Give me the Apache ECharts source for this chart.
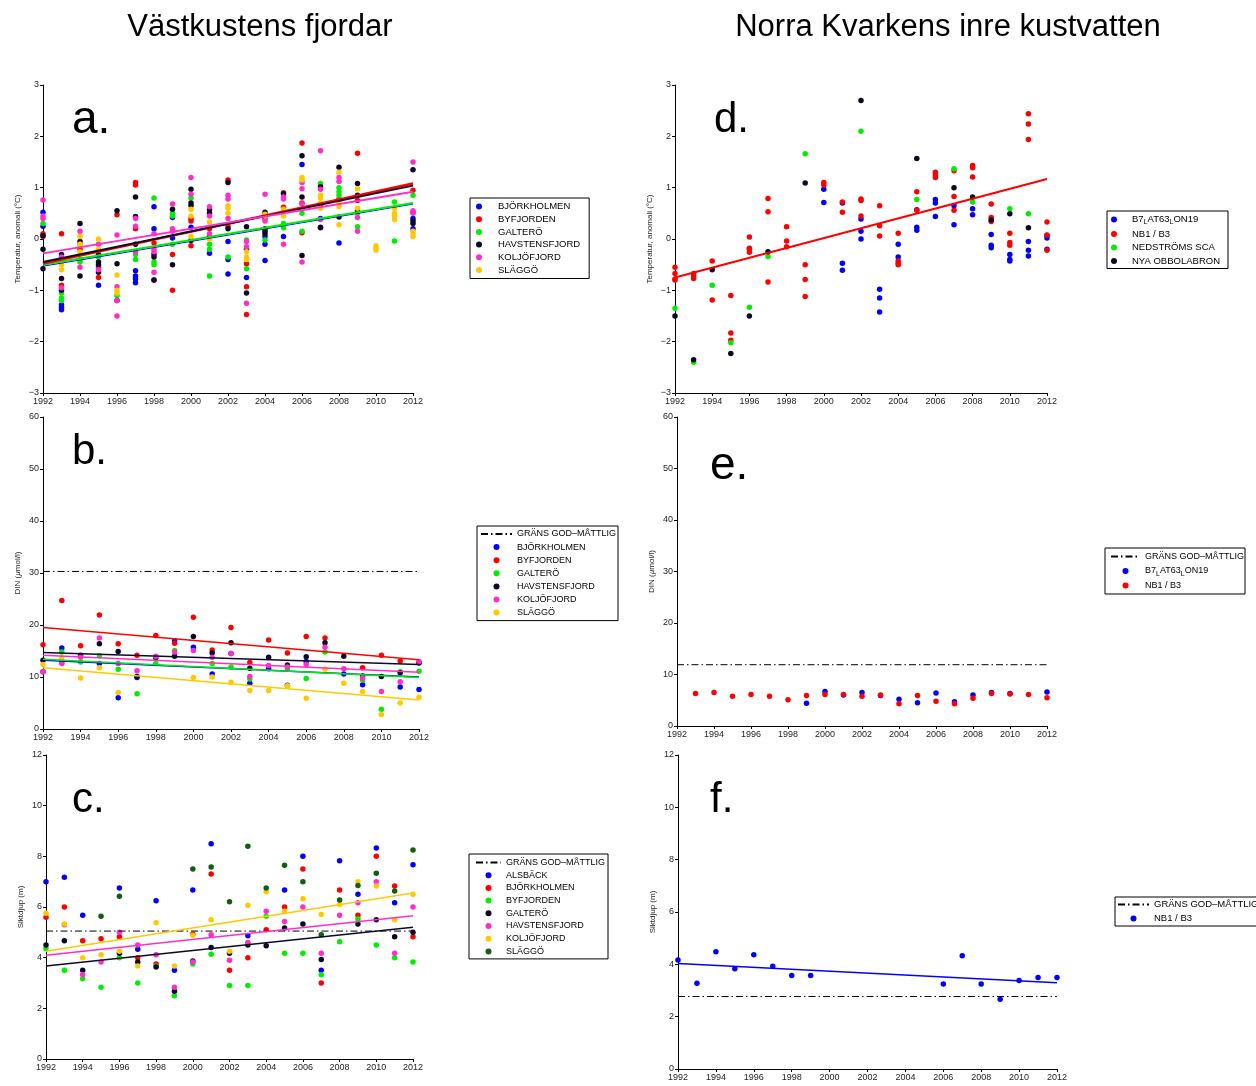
<!DOCTYPE html>
<html lang="sv">
<head>
  <meta charset="UTF-8">
  <title>Västkustens fjordar / Norra Kvarken</title>
  <script src="https://cdn.jsdelivr.net/npm/echarts@6/dist/echarts.min.js"></script>
  <style>
    html, body { margin: 0; padding: 0; background: #fff; }
    #chart { width: 1256px; height: 1086px; }
  </style>
</head>
<body>
<div id="chart"></div>
<script>
  // årtal (x-axel)
  const years = [1992, 1993, 1994, 1995, 1996, 1997, 1998, 1999, 2000, 2001, 2002,
                 2003, 2004, 2005, 2006, 2007, 2008, 2009, 2010, 2011, 2012];

  // a. temperaturanomali, flera värden per år
  const aBjorkholmen = [[0.52, 0.25], [-1.28, -1.33, -1.38], [], [-0.9], [], [-0.62, -0.72, -0.78, -0.85],
    [0.63, 0.2], [0.42, 0.02], [0.23], [-0.28], [-0.05, -0.4, -0.68], [-0.2, -0.75], [0.05, -0.1, -0.42],
    [0.05], [1.45], [0.4, 0.22], [-0.08], [], [], [], [0.4, 0.2]];
  const aByfjorden = [[0.1, 0.05], [0.1, -0.9], [-0.2], [-0.55, -0.75], [0.47], [1.1, 1.05, 0.2],
    [-0.08, -0.8], [-0.3, -1.0], [0.4, 0.35, -0.13], [0.2], [1.15, 0.25], [-0.48, -0.93, -1.47], [0.4],
    [0.9, 0.62], [1.87, 0.7, 0.12], [0.65], [0.78], [1.67, 0.75], [], [], [0.95, 0.52]];
  const aGaltero = [[0.3], [-1.05, -1.15, -1.2], [-0.4, -0.45], [-0.35], [-1.1], [-0.3, -0.4],
    [0.8, -0.45, -0.5], [0.5, 0.45, -0.1], [0.8], [-0.1, -0.2, -0.72], [-0.35], [-0.02, -0.58], [-0.02],
    [0.3, 0.22], [0.5, 0.15], [1.08], [1.0, 0.92, 0.85], [0.5, 0.24], [], [0.72, -0.04], [0.85]];
  const aHavstensfjord = [[0.07, -0.2, -0.58], [-0.3, -0.77, -1.0], [0.3, -0.05, -0.72], [-0.3, -0.45, -0.5, -0.65],
    [0.55, -0.48, -1.2], [0.82, 0.44, -0.1], [-0.3, -0.35, -0.8], [0.58, -0.5], [0.97, 0.7, 0.65, -0.03],
    [0.57, 0.5, 0.05], [1.1, 0.2], [0.24, -1.05], [0.52, 0.2, 0.15, 0.1], [0.88], [1.62, 0.82, -0.32],
    [1.02, 0.23], [1.4, 0.43], [1.08, 0.85, 0.55], [], [], [1.35, 0.35, 0.3]];
  const aKoljofjord = [[0.76, 0.45, 0.4], [-0.35, -0.95], [0.15, -0.1, -0.55], [-0.1, -0.6], [0.08, -0.93, -1.2, -1.5],
    [0.4, 0.25, -0.25], [0.1, -0.2, -0.25, -0.65], [0.68, 0.2, 0.15], [1.2, 0.87], [0.63, 0.45, 0.1],
    [0.85, 0.78, 0.4], [-0.05, -0.15, -1.25], [0.87, 0.35], [0.82, 0.78, -0.1], [1.1, 0.98, 0.68, -0.45],
    [1.72, 0.97, 0.38], [1.2, 1.12, 0.75], [0.42, 0.15], [], [], [1.5, 0.55, 0.5]];
  const aSlaggo = [[], [-0.45, -0.5, -0.6], [0.05, -0.1, -0.25], [0.0, -0.2], [-0.7, -1.0, -1.05], [], [], [],
    [0.58, 0.45, 0.05], [0.33, 0.0], [0.65, 0.6, 0.5], [-0.25, -0.35, -0.4], [0.48, 0.45], [0.58, 0.52, 0.45],
    [1.2, 1.15], [0.85, 0.8, 0.7, 0.6], [1.3, 0.7, 0.63, 0.28], [0.98, 0.6], [-0.13, -0.18, -0.22],
    [0.6, 0.5, 0.45, 0.38], [0.15, 0.1, 0.05]];
  // trendlinjer a: [värde 1992, värde 2012]
  const aTrendByf = [-0.48, 1.08];
  const aTrendHav = [-0.45, 1.04];
  const aTrendKol = [-0.28, 0.92];
  const aTrendGal = [-0.5, 0.7];
  const aTrendBjo = [-0.53, 0.68];

  // b. DIN
  const bBjorkholmen = [11.0, 15.6, null, 12.6, 6.0, 9.9, null, 16.9, 15.7, 10.6, 14.5, 8.8, 11.6, 8.4, 13.0, null, 10.6, 8.5, null, 8.1, 7.6];
  const bByfjorden = [16.2, 24.7, 16.0, 21.9, 16.4, 14.2, 18.0, 16.5, 21.5, 15.2, 19.5, 12.8, 17.1, 14.6, 17.8, 17.5, null, 11.8, 14.2, 13.1, 12.8];
  const bGaltero = [null, 14.8, 12.9, 14.1, 11.5, 6.8, 12.6, 15.1, null, 12.6, 11.9, 9.6, null, 11.6, 9.7, 14.8, null, 9.4, 3.8, 11.0, 11.1];
  const bHavstensfjord = [13.2, 13.0, 14.2, 16.4, 14.9, 10.1, 13.7, 14.0, 17.8, 14.6, 16.6, 11.7, 13.8, 12.3, 13.9, 16.6, 14.0, 10.2, 10.1, 10.8, 12.7];
  const bKoljofjord = [11.0, 12.6, 13.8, 17.5, 12.6, 11.2, 14.0, 14.8, 15.1, 13.8, 14.5, 10.1, 12.2, 11.9, 12.4, 15.7, 11.6, 9.8, 7.2, 9.1, 13.0];
  const bSlaggo = [12.4, 13.7, 9.8, 11.8, 7.0, null, null, null, 9.9, 10.0, 9.0, 7.4, 7.4, 8.3, 5.9, 11.5, 8.8, 7.2, 2.8, 5.0, 6.1];
  const bGrans = 30.3;
  const bTrendByf = [19.5, 13.3];
  const bTrendHav = [14.7, 12.4];
  const bTrendKol = [14.2, 10.9];
  const bTrendGal = [13.4, 9.9];
  const bTrendBjo = [13.2, 10.0];
  const bTrendSla = [11.8, 5.6];

  // c. siktdjup
  const cAlsback = [7.0, 7.17, 5.67, null, 6.75, 4.33, 6.25, 3.5, 6.67, 8.5, null, 4.87, null, 6.67, 8.0, 3.5, 7.83, 6.5, 8.33, 6.17, 7.67];
  const cBjorkholmen = [5.6, 6.0, 4.67, 4.75, 4.83, 4.0, 3.75, null, 4.92, 7.3, 3.5, 4.0, 5.1, 6.0, 7.5, 3.0, 6.67, 5.67, 8.0, 6.83, 4.83];
  const cByfjorden = [4.35, 3.5, 3.17, 2.83, 4.0, 3.0, 3.67, 2.5, 3.75, 4.13, 2.9, 2.9, 5.63, 4.17, 4.17, 3.33, 4.63, 5.53, 4.5, 4.0, 3.83];
  const cGaltero = [4.5, 4.67, 3.5, null, 4.17, 3.83, 3.63, 2.67, 3.87, 4.4, 4.17, 4.5, 4.47, 5.17, 5.33, 3.93, null, 5.33, 5.5, 4.83, 5.0];
  const cHavstensfjord = [null, 5.3, 3.33, 3.83, 5.0, 4.5, 4.12, 2.83, 3.83, 4.9, 3.9, 4.6, 5.83, 5.43, 6.0, 4.17, 5.67, 6.17, 7.0, 4.17, 6.0];
  const cKoljofjord = [5.75, 5.33, 4.0, 4.12, 4.25, 3.67, 5.38, 3.67, 4.88, 5.5, 4.25, 6.07, 6.6, 5.83, 6.33, 5.7, 6.1, 7.0, 6.83, 5.5, 6.5];
  const cSlaggo = [null, null, null, 5.63, 6.42, null, null, null, 7.5, 7.58, 6.21, 8.4, 6.75, 7.65, 7.0, 4.9, 6.28, 6.85, 7.33, 6.63, 8.25];
  const cGrans = 5.05;
  const cTrendKol = [4.25, 6.55];
  const cTrendHav = [4.1, 5.65];
  const cTrendGal = [3.67, 5.2];

  // d. temperaturanomali Norra Kvarken
  const dB7 = [[], [], [], [], [], [], [], [], [0.97, 0.71], [0.7, -0.47, -0.61], [0.39, 0.15, 0.0],
    [-0.98, -1.15, -1.42], [-0.1, -0.35], [0.57, 0.23, 0.17], [0.77, 0.7, 0.44], [0.65, 0.28], [0.59, 0.47],
    [0.09, -0.12, -0.17], [-0.3, -0.4, -0.43], [-0.05, -0.22, -0.33], [0.02, 0.07, -0.2]];
  const dNB1 = [[-0.55, -0.67, -0.78, -0.8], [-0.67, -0.72, -0.77], [-0.43, -1.19], [-1.1, -1.83, -1.97],
    [0.04, -0.18, -0.2, -0.26], [0.79, 0.53, -0.84], [0.24, -0.04, -0.15], [-0.5, -0.79, -1.12], [1.1, 1.05],
    [0.72, 0.52], [0.78, 0.75, 0.45], [0.65, 0.26, 0.06], [0.11, -0.43, -0.47, -0.5], [0.92, 0.56],
    [1.3, 1.25, 1.2], [1.33, 0.83, 0.56], [1.43, 1.39, 1.21], [0.68, 0.42, 0.34], [0.11, -0.07, -0.12],
    [2.44, 2.24, 1.94], [0.33, 0.08, -0.22]];
  const dNedstroms = [[-1.35], [-2.4], [-0.9], [-2.02], [-1.33], [-0.34], [], [1.66], [], [], [2.1], [], [],
    [0.77], [], [1.37], [0.72], [], [0.59], [0.49], []];
  const dObbola = [[-1.5], [-2.35], [-0.6], [-2.23], [-1.5], [-0.25], [], [1.09], [], [], [2.7], [], [],
    [1.57], [], [1.0], [0.82], [0.37], [0.49], [0.22], []];
  const dTrendNB1 = [-0.75, 1.17];

  // e. DIN Norra Kvarken
  const eB7 = [null, null, null, null, null, null, null, 4.4, 6.7, 6.0, 6.5, 5.9, 5.2, 4.5, 6.4, 4.7, 6.0, 6.5, 6.3, null, 6.6];
  const eNB1 = [null, 6.3, 6.5, 5.8, 6.1, 5.8, 5.1, 5.9, 6.1, 6.1, 5.8, 6.0, 4.3, 5.9, 4.8, 4.3, 5.4, 6.3, 6.2, 6.1, 5.5];
  const eGrans = 11.9;

  // f. siktdjup Norra Kvarken
  const fNB1 = [4.17, 3.28, 4.48, 3.83, 4.37, 3.93, 3.57, 3.57, null, null, null, null, null, null, 3.25, 4.33, 3.25, 2.67, 3.38, 3.5, 3.5];
  const fGrans = 2.77;
  const fTrendNB1 = [4.03, 3.3];

  const BLUE = '#0000ff', RED = '#ff0000', GREEN = '#00ee00', BLACK = '#0a0a28',
        MAGENTA = '#ff2ec8', GOLD = '#ffc800', DKGREEN = '#0f5f0f';
  const FONT = '"Liberation Sans", Arial, Helvetica, sans-serif';
  const GRANS = 'GRÄNS GOD–MÅTTLIG';

  function pts(vals) {
    const out = [];
    vals.forEach((v, i) => {
      if (v == null) return;
      if (Array.isArray(v)) v.forEach(x => out.push([years[i], x]));
      else out.push([years[i], v]);
    });
    return out;
  }

  function scatter(name, gi, vals, color) {
    return {
      name: name, type: 'scatter', xAxisIndex: gi, yAxisIndex: gi,
      data: pts(vals), symbol: 'circle', symbolSize: 5.5,
      itemStyle: { color: color, opacity: 1 }, silent: true
    };
  }

  function trend(name, gi, ends, color, width) {
    return {
      name: name, type: 'line', xAxisIndex: gi, yAxisIndex: gi,
      data: [[years[0], ends[0]], [years[years.length - 1], ends[1]]],
      symbol: 'none', silent: true,
      lineStyle: { color: color, width: width }
    };
  }

  function grans(name, gi, val) {
    return {
      name: name, type: 'line', xAxisIndex: gi, yAxisIndex: gi,
      data: [[years[0], val], [years[years.length - 1], val]],
      symbol: 'none', silent: true,
      itemStyle: { color: 'rgba(0,0,0,0)', opacity: 0 },
      lineStyle: { color: '#000', width: 1, type: [7, 3, 1.5, 3] }
    };
  }

  function xAx(gi) {
    return {
      type: 'value', gridIndex: gi, min: 1992, max: 2012, interval: 2,
      axisLine: { onZero: false, lineStyle: { color: '#000', width: 1 } },
      axisTick: { length: 3, lineStyle: { color: '#000' } },
      axisLabel: { fontSize: 9, color: '#222', margin: 4, fontFamily: FONT, formatter: v => String(v) },
      splitLine: { show: false }
    };
  }

  function yAx(gi, min, max, interval, name) {
    return {
      type: 'value', gridIndex: gi, min: min, max: max, interval: interval,
      name: name, nameLocation: 'middle', nameGap: 21,
      nameTextStyle: {
        fontSize: 8, color: '#222', fontFamily: FONT,
        rich: { n: { fontSize: 8, color: '#222', fontFamily: FONT },
                i: { fontSize: 8, color: '#222', fontFamily: FONT, fontStyle: 'italic' } }
      },
      axisLine: { show: true, onZero: false, lineStyle: { color: '#000', width: 1 } },
      axisTick: { show: true, length: 3, lineStyle: { color: '#000' } },
      axisLabel: { fontSize: 9, color: '#222', margin: 4, fontFamily: FONT,
                   formatter: v => String(v).replace('-', '−') },
      splitLine: { show: false }
    };
  }

  function leg(p) {
    const fs = p.fontSize;
    return {
      orient: 'vertical', left: p.left, top: p.top, data: p.data,
      itemWidth: p.itemWidth, itemHeight: 6, itemGap: p.itemGap,
      padding: p.padding, borderColor: '#000', borderWidth: 1,
      selectedMode: false,
      textStyle: {
        fontSize: fs, lineHeight: 11, color: '#000', fontFamily: FONT,
        rich: {
          n: { fontSize: fs, fontFamily: FONT, color: '#000', lineHeight: 11 },
          s: { fontSize: 7, fontFamily: FONT, color: '#000', lineHeight: 7, padding: [6, 0, 0, 0] }
        }
      },
      formatter: function (n) {
        const t = n.slice(2);
        if (t === 'B7_LAT63_LON19') return '{n|B7}{s|L}{n|AT63}{s|L}{n|ON19}';
        return t;
      }
    };
  }

  const chart = echarts.init(document.getElementById('chart'));

  const option = {
    animation: false,
    backgroundColor: '#fff',
    grid: [
      { left: 43, top: 85, width: 370, height: 308 },
      { left: 43, top: 417, width: 376, height: 312 },
      { left: 46, top: 755, width: 367, height: 304 },
      { left: 675, top: 85, width: 372, height: 308 },
      { left: 677, top: 417, width: 370, height: 309 },
      { left: 678, top: 755, width: 379, height: 314 }
    ],
    xAxis: [xAx(0), xAx(1), xAx(2), xAx(3), xAx(4), xAx(5)],
    yAxis: [
      yAx(0, -3, 3, 1, 'Temperatur, anomali (°C)'),
      yAx(1, 0, 60, 10, '{n|DIN (}{i|µ}{n|mol/l)}'),
      yAx(2, 0, 12, 2, 'Siktdjup (m)'),
      yAx(3, -3, 3, 1, 'Temperatur, anomali (°C)'),
      yAx(4, 0, 60, 10, '{n|DIN (}{i|µ}{n|mol/l)}'),
      yAx(5, 0, 12, 2, 'Siktdjup (m)')
    ],
    legend: [
      leg({ left: 470, top: 198, itemWidth: 28, itemGap: 1.7, padding: [3, 9, 3, 6], fontSize: 9.5,
            data: ['a#BJÖRKHOLMEN', 'a#BYFJORDEN', 'a#GALTERÖ', 'a#HAVSTENSFJORD', 'a#KOLJÖFJORD', 'a#SLÄGGÖ'] }),
      leg({ left: 477, top: 526, itemWidth: 31, itemGap: 2.1, padding: [2.5, 2, 2.5, 3], fontSize: 9,
            data: ['b#' + GRANS, 'b#BJÖRKHOLMEN', 'b#BYFJORDEN', 'b#GALTERÖ', 'b#HAVSTENSFJORD', 'b#KOLJÖFJORD', 'b#SLÄGGÖ'] }),
      leg({ left: 469, top: 854, itemWidth: 25, itemGap: 1.7, padding: [3, 3, 2, 6], fontSize: 9,
            data: ['c#' + GRANS, 'c#ALSBÄCK', 'c#BJÖRKHOLMEN', 'c#BYFJORDEN', 'c#GALTERÖ', 'c#HAVSTENSFJORD', 'c#KOLJÖFJORD', 'c#SLÄGGÖ'] }),
      leg({ left: 1107, top: 211, itemWidth: 26, itemGap: 2.5, padding: [2, 8, 2, 4], fontSize: 9.5,
            data: ['d#B7_LAT63_LON19', 'd#NB1 / B3', 'd#NEDSTRÖMS SCA', 'd#NYA OBBOLABRON'] }),
      leg({ left: 1105, top: 548, itemWidth: 29, itemGap: 2.5, padding: [3, 1, 3, 5], fontSize: 9,
            data: ['e#' + GRANS, 'e#B7_LAT63_LON19', 'e#NB1 / B3'] }),
      leg({ left: 1115, top: 897, itemWidth: 31, itemGap: 3, padding: [2, 4, 2, 2], fontSize: 9.5,
            data: ['f#' + GRANS, 'f#NB1 / B3'] })
    ],
    graphic: [
      { type: 'text', x: 260, y: 27, style: { text: 'Västkustens fjordar', font: '31px ' + FONT, fill: '#000', align: 'center', verticalAlign: 'middle' } },
      { type: 'text', x: 948, y: 27, style: { text: 'Norra Kvarkens inre kustvatten', font: '31px ' + FONT, fill: '#000', align: 'center', verticalAlign: 'middle' } },
      { type: 'text', x: 72, y: 120, style: { text: 'a.', font: '46px ' + FONT, fill: '#000', verticalAlign: 'middle' } },
      { type: 'text', x: 72, y: 452, style: { text: 'b.', font: '42px ' + FONT, fill: '#000', verticalAlign: 'middle' } },
      { type: 'text', x: 72, y: 800, style: { text: 'c.', font: '42px ' + FONT, fill: '#000', verticalAlign: 'middle' } },
      { type: 'text', x: 714, y: 120, style: { text: 'd.', font: '42px ' + FONT, fill: '#000', verticalAlign: 'middle' } },
      { type: 'text', x: 710, y: 466, style: { text: 'e.', font: '46px ' + FONT, fill: '#000', verticalAlign: 'middle' } },
      { type: 'text', x: 710, y: 800, style: { text: 'f.', font: '42px ' + FONT, fill: '#000', verticalAlign: 'middle' } }
    ],
    series: [
      // a
      scatter('a#BJÖRKHOLMEN', 0, aBjorkholmen, BLUE),
      scatter('a#BYFJORDEN', 0, aByfjorden, RED),
      scatter('a#GALTERÖ', 0, aGaltero, GREEN),
      scatter('a#HAVSTENSFJORD', 0, aHavstensfjord, BLACK),
      scatter('a#KOLJÖFJORD', 0, aKoljofjord, MAGENTA),
      scatter('a#SLÄGGÖ', 0, aSlaggo, GOLD),
      trend('a-t1', 0, aTrendBjo, BLUE, 1),
      trend('a-t2', 0, aTrendGal, GREEN, 2),
      trend('a-t3', 0, aTrendByf, RED, 2.5),
      trend('a-t4', 0, aTrendHav, BLACK, 2),
      trend('a-t5', 0, aTrendKol, MAGENTA, 2),
      // b
      grans('b#' + GRANS, 1, bGrans),
      scatter('b#BJÖRKHOLMEN', 1, bBjorkholmen, BLUE),
      scatter('b#BYFJORDEN', 1, bByfjorden, RED),
      scatter('b#GALTERÖ', 1, bGaltero, GREEN),
      scatter('b#HAVSTENSFJORD', 1, bHavstensfjord, BLACK),
      scatter('b#KOLJÖFJORD', 1, bKoljofjord, MAGENTA),
      scatter('b#SLÄGGÖ', 1, bSlaggo, GOLD),
      trend('b-t1', 1, bTrendByf, RED, 1.5),
      trend('b-t2', 1, bTrendHav, BLACK, 1.5),
      trend('b-t3', 1, bTrendKol, MAGENTA, 1.5),
      trend('b-t4', 1, bTrendBjo, BLUE, 1.5),
      trend('b-t5', 1, bTrendGal, GREEN, 1.5),
      trend('b-t6', 1, bTrendSla, GOLD, 1.5),
      // c
      grans('c#' + GRANS, 2, cGrans),
      scatter('c#ALSBÄCK', 2, cAlsback, BLUE),
      scatter('c#BJÖRKHOLMEN', 2, cBjorkholmen, RED),
      scatter('c#BYFJORDEN', 2, cByfjorden, GREEN),
      scatter('c#GALTERÖ', 2, cGaltero, BLACK),
      scatter('c#HAVSTENSFJORD', 2, cHavstensfjord, MAGENTA),
      scatter('c#KOLJÖFJORD', 2, cKoljofjord, GOLD),
      scatter('c#SLÄGGÖ', 2, cSlaggo, DKGREEN),
      trend('c-t1', 2, cTrendKol, GOLD, 1.5),
      trend('c-t2', 2, cTrendHav, MAGENTA, 1.5),
      trend('c-t3', 2, cTrendGal, BLACK, 1.5),
      // d
      scatter('d#B7_LAT63_LON19', 3, dB7, BLUE),
      scatter('d#NB1 / B3', 3, dNB1, RED),
      scatter('d#NEDSTRÖMS SCA', 3, dNedstroms, GREEN),
      scatter('d#NYA OBBOLABRON', 3, dObbola, BLACK),
      trend('d-t1', 3, dTrendNB1, RED, 2),
      // e
      grans('e#' + GRANS, 4, eGrans),
      scatter('e#B7_LAT63_LON19', 4, eB7, BLUE),
      scatter('e#NB1 / B3', 4, eNB1, RED),
      // f
      grans('f#' + GRANS, 5, fGrans),
      scatter('f#NB1 / B3', 5, fNB1, BLUE),
      trend('f-t1', 5, fTrendNB1, BLUE, 1.5)
    ]
  };

  chart.setOption(option);
</script>
</body>
</html>
